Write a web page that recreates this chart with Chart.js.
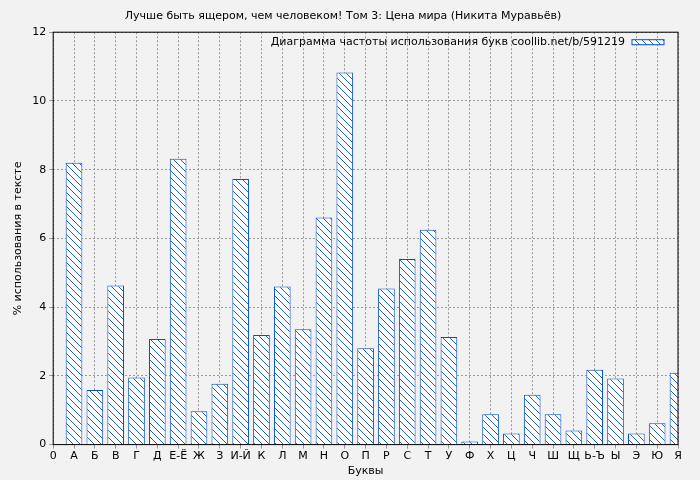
<!DOCTYPE html>
<html><head><meta charset="utf-8">
<script src="https://cdn.jsdelivr.net/npm/chart.js@4"></script>
<style>html,body{margin:0;background:#f2f2f2}</style></head>
<body><canvas id="c" width="700" height="480" style="width:700px;height:480px"></canvas>
<script>
const categories=["0","А","Б","В","Г","Д","Е-Ё","Ж","З","И-Й","К","Л","М","Н","О","П","Р","С","Т","У","Ф","Х","Ц","Ч","Ш","Щ","Ь-Ъ","Ы","Э","Ю","Я"];
const values=[null,8.2,1.59,4.63,1.95,3.07,8.32,0.97,1.77,7.73,3.19,4.6,3.36,6.61,10.83,2.8,4.54,5.4,6.25,3.13,0.09,0.88,0.32,1.45,0.88,0.41,2.18,1.92,0.32,0.62,2.09];
const yTicks=[0,2,4,6,8,10,12];
const seriesLabel="Диаграмма частоты использования букв coollib.net/b/591219";
function hatch(){const p=document.createElement('canvas');p.width=7;p.height=7;const g=p.getContext('2d');
g.fillStyle='#fff';g.fillRect(0,0,7,7);g.strokeStyle='#0050d0';g.lineWidth=0.9;
g.beginPath();g.moveTo(0,0);g.lineTo(7,7);g.moveTo(-3.5,3.5);g.lineTo(3.5,10.5);g.moveTo(3.5,-3.5);g.lineTo(10.5,3.5);g.stroke();
return g.createPattern(p,'repeat');}
const pat=hatch();
const bg={id:'bg',beforeDraw(c){const x=c.ctx;x.save();x.fillStyle='#f2f2f2';x.fillRect(0,0,c.width,c.height);x.restore();},
afterDraw(c){const x=c.ctx,a=c.chartArea;x.save();x.strokeStyle='#000';x.lineWidth=1;x.strokeRect(a.left,a.top,a.right-a.left,a.bottom-a.top);
x.font='11px "DejaVu Sans"';x.textAlign='right';x.textBaseline='middle';
const bx=a.right-46,by=a.top+10;
x.fillStyle='#000';x.fillText(seriesLabel,bx-7,by);
x.fillStyle=pat;x.fillRect(bx,by-2.5,32,5);x.strokeStyle='#0050d0';x.strokeRect(bx,by-2.5,32,5);x.restore();}};
new Chart(document.getElementById('c'),{type:'bar',
data:{labels:categories,datasets:[{label:seriesLabel,data:values,backgroundColor:pat,borderColor:'#0050d0',borderWidth:1,barPercentage:0.8,categoryPercentage:1}]},
options:{responsive:false,animation:false,devicePixelRatio:1,
layout:{padding:{left:8,right:22,top:2,bottom:0}},
plugins:{legend:{display:false},title:{display:true,text:'Лучше быть ящером, чем человеком! Том 3: Цена мира (Никита Муравьёв)',color:'#000',font:{family:'DejaVu Sans',size:11,weight:'normal'},padding:{top:8,bottom:9}}},
scales:{x:{offset:false,grid:{color:'#999',offset:false,drawTicks:true,tickLength:4},border:{display:false,dash:[2,2]},
ticks:{color:'#000',font:{family:'DejaVu Sans',size:11},maxRotation:0,autoSkip:false,padding:1},
title:{display:true,text:'Буквы',color:'#000',font:{family:'DejaVu Sans',size:11},padding:{top:1,bottom:2}}},
y:{min:0,max:12,grid:{color:'#999',tickLength:4},border:{display:false,dash:[2,2]},
afterBuildTicks(s){s.ticks=yTicks.map(v=>({value:v}));},
ticks:{color:'#000',font:{family:'DejaVu Sans',size:11}},
title:{display:true,text:'% использования в тексте',color:'#000',font:{family:'DejaVu Sans',size:11}}}}},
plugins:[bg]});
</script></body></html>
